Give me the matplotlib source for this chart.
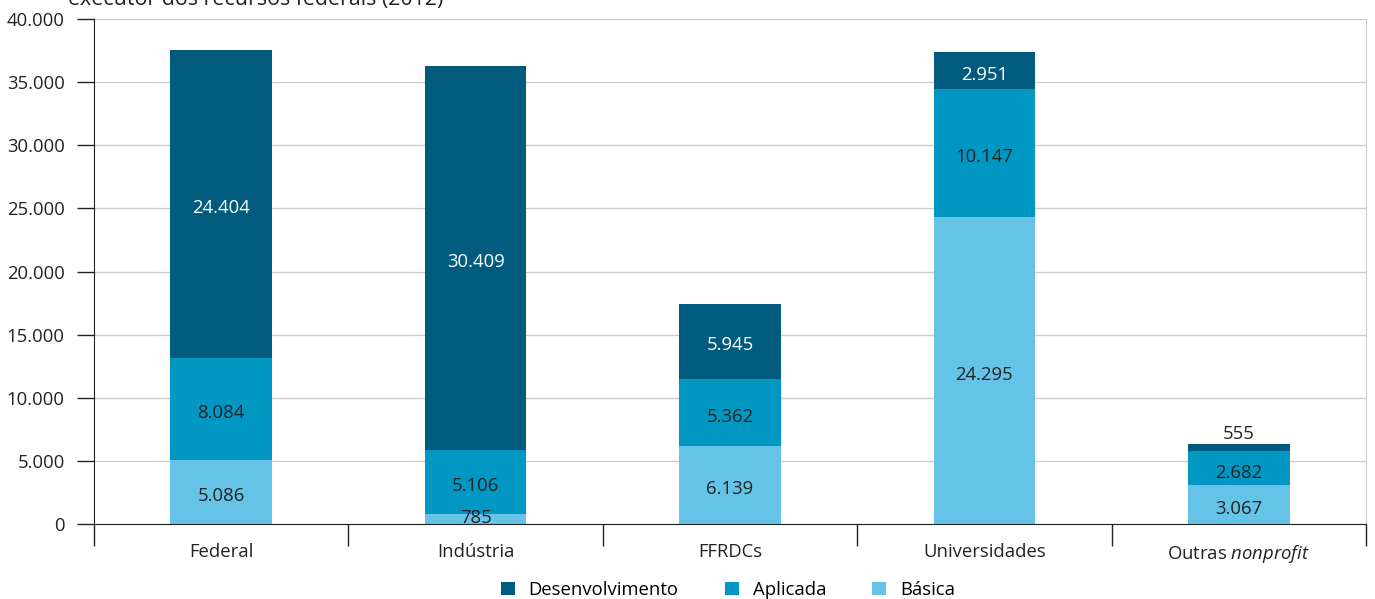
import matplotlib.pyplot as plt
import numpy as np
from matplotlib.patches import Patch
from matplotlib.ticker import FuncFormatter, FixedLocator

plt.rcParams["font.family"] = ["Open Sans", "DejaVu Sans"]
plt.rcParams["mathtext.fontset"] = "custom"
plt.rcParams["mathtext.rm"] = "Open Sans"
plt.rcParams["mathtext.it"] = "Open Sans:italic"

categories = ["Federal", "Indústria", "FFRDCs", "Universidades", "Outras $\\it{nonprofit}$"]
basica = [5086, 785, 6139, 24295, 3067]
aplicada = [8084, 5106, 5362, 10147, 2682]
desenvolvimento = [24404, 30409, 5945, 2951, 555]

series = [
    ("Básica", basica, "#66c3e8", "#222222"),
    ("Aplicada", aplicada, "#0098c3", "#222222"),
    ("Desenvolvimento", desenvolvimento, "#005b7f", "white"),
]
FS = 13.3


def fmt_thousands(v, _pos=None):
    return f"{int(v):,}".replace(",", ".")


fig = plt.figure(figsize=(13.75, 5.99), dpi=100)
ax = fig.add_axes([94 / 1375, 75 / 599, 1272 / 1375, 505 / 599])

x = np.arange(len(categories))
bottom = np.zeros(len(categories))
for name, vals, color, tcolor in series:
    vals = np.array(vals, dtype=float)
    ax.bar(x, vals, 0.4, bottom=bottom, color=color, zorder=2)
    for xi, b, v in zip(x, bottom, vals):
        if v < 700:
            # too thin: label sits on top of the bar
            ax.annotate(fmt_thousands(v), (xi, b + v), xytext=(0, 1), textcoords="offset points",
                        ha="center", va="bottom", fontsize=FS, color="#222222", zorder=3)
        elif v < 1000:
            ax.annotate(fmt_thousands(v), (xi, b + v / 2), xytext=(0, 1), textcoords="offset points",
                        ha="center", va="center", fontsize=FS, color=tcolor, zorder=3)
        else:
            ax.annotate(fmt_thousands(v), (xi, b + v / 2), xytext=(0, -3), textcoords="offset points",
                        ha="center", va="center", fontsize=FS, color=tcolor, zorder=3)
    bottom += vals

ax.set_xlim(-0.5, len(categories) - 0.5)
ax.set_ylim(0, 40000)
ax.set_yticks(np.arange(0, 40001, 5000))
ax.yaxis.set_major_formatter(FuncFormatter(fmt_thousands))
ax.grid(axis="y", color="#cccccc", linewidth=1, zorder=0)

ax.set_xticks(x)
ax.set_xticklabels(categories)
ax.xaxis.set_minor_locator(FixedLocator(np.arange(-0.5, len(categories), 1.0)))
ax.tick_params(axis="x", which="major", length=0, pad=14, labelsize=FS, colors="#222222")
ax.tick_params(axis="x", which="minor", length=16, width=1, color="#222222")
ax.tick_params(axis="y", length=12, width=1, labelsize=FS, color="#222222",
               labelcolor="#222222", pad=9)

ax.spines["top"].set_visible(False)
ax.spines["right"].set_color("#cccccc")
ax.spines["left"].set_color("#222222")
ax.spines["bottom"].set_color("#222222")

handles = [Patch(facecolor=c) for _, _, c, _ in series[::-1]]
labels = [n for n, _, _, _ in series[::-1]]
fig.legend(handles, labels, loc="center", bbox_to_anchor=(728 / 1375, 9 / 599), ncol=3,
           frameon=False, fontsize=FS, handlelength=0.75, handleheight=0.75,
           columnspacing=2.5, handletextpad=0.75)

fig.text(68 / 1375, 1 - 5 / 599, "executor dos recursos federais (2012)", ha="left",
         va="baseline", fontsize=15.4, color="#222222")

fig.savefig("out.png", dpi=100)
